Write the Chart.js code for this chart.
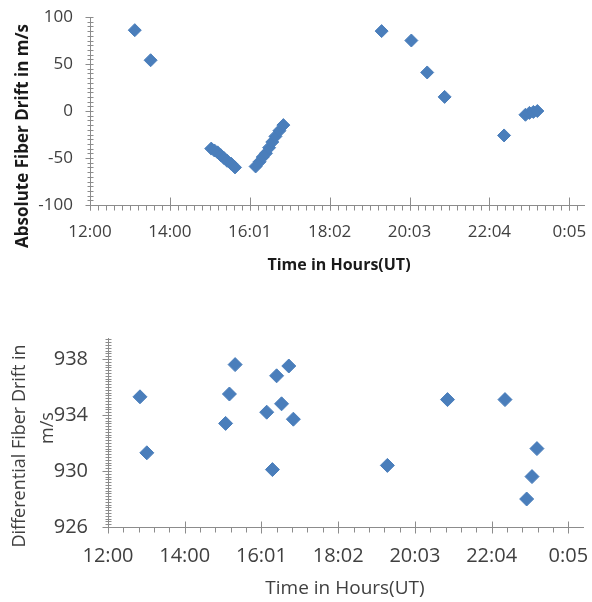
<!DOCTYPE html>
<html>
<head>
<meta charset="utf-8">
<script src="https://cdn.jsdelivr.net/npm/chart.js@4/dist/chart.umd.min.js"></script>
<style>
  html, body { margin: 0; padding: 0; background: #ffffff; }
  #wrap { position: relative; width: 592px; height: 602px; overflow: hidden; }
  .box { position: absolute; left: 0; width: 592px; }
  #b1 { top: 0; height: 300px; }
  #b2 { top: 300px; height: 302px; }
</style>
</head>
<body>
<div id="wrap">
  <div class="box" id="b1"><canvas id="c1" width="592" height="300"></canvas></div>
  <div class="box" id="b2"><canvas id="c2" width="592" height="302"></canvas></div>
</div>
<script>
// ---------- DATA ----------
const xTickHours  = [12, 14.016, 16.032, 18.048, 20.064, 22.08, 24.096];
const xTickLabels = ['12:00', '14:00', '16:01', '18:02', '20:03', '22:04', '0:05'];

// Absolute fiber drift (m/s) vs time (hours UT)
const absHours = [13.13, 13.53,
  15.06, 15.14, 15.22, 15.30, 15.38, 15.46, 15.56, 15.66,
  16.18, 16.28, 16.36, 16.44, 16.52, 16.60, 16.68, 16.78, 16.88,
  19.36, 20.11, 20.51, 20.95, 22.45,
  22.99, 23.09, 23.19, 23.29];
const absDrift = [86, 54,
  -40, -42, -44, -47, -50, -53, -56, -60,
  -59, -54, -49, -45, -39, -33, -27, -21, -15,
  85, 75, 41, 15, -26,
  -4, -2, -1, 0];
const absYTicks = [-100, -50, 0, 50, 100];

// Differential fiber drift (m/s) vs time (hours UT)
const diffHours = [12.84, 13.02, 15.09, 15.19, 15.34, 16.17, 16.32, 16.43, 16.56, 16.75, 16.87,
  19.34, 20.92, 22.43, 23.00, 23.14, 23.27];
const diffDrift = [935.3, 931.3, 933.4, 935.5, 937.6, 934.2, 930.1, 936.8, 934.8, 937.5, 933.7,
  930.4, 935.1, 935.1, 928.0, 929.6, 931.6];
const diffYTicks = [926, 930, 934, 938];

// ---------- STYLE ----------
const AXIS = '#8c8c8c';
const MARK = '#4a7ebb';
const FONT = "'Open Sans', 'Noto Sans', sans-serif";

const axisDeco = {
  id: 'axisDeco',
  afterDraw(chart, args, o) {
    const ctx = chart.ctx, xs = chart.scales.x, ys = chart.scales.y, a = chart.chartArea;
    ctx.save();
    ctx.strokeStyle = AXIS; ctx.lineWidth = 1;
    ctx.beginPath();
    const L = Math.round(a.left) + 0.5, B = Math.round(a.bottom) + 0.5;
    for (let v = ys.min; v <= ys.max + 1e-9; v += o.yMinor) {
      const py = Math.round(ys.getPixelForValue(v)) + 0.5;
      ctx.moveTo(L - o.yMinorL, py); ctx.lineTo(L + o.yMinorR, py);
    }
    ys.ticks.forEach(t => {
      const py = Math.round(ys.getPixelForValue(t.value)) + 0.5;
      ctx.moveTo(L - o.yMajorL, py); ctx.lineTo(L + o.yMajorR, py);
    });
    for (let v = xs.min; v <= xs.max + 1e-9; v += o.xMinor) {
      const px = Math.round(xs.getPixelForValue(v)) + 0.5;
      ctx.moveTo(px, B); ctx.lineTo(px, B + o.xMinorD);
    }
    xs.ticks.forEach(t => {
      const px = Math.round(xs.getPixelForValue(t.value)) + 0.5;
      ctx.moveTo(px, B - o.xMajorU); ctx.lineTo(px, B + o.xMajorD);
    });
    ctx.stroke();
    // titles
    (o.titles || []).forEach(t => {
      ctx.save();
      ctx.translate(t.x, t.y);
      if (t.rot) ctx.rotate(t.rot);
      ctx.font = t.font;
      ctx.fillStyle = t.color;
      ctx.textAlign = 'center';
      ctx.textBaseline = 'middle';
      ctx.fillText(t.text, 0, 0);
      ctx.restore();
    });
    ctx.restore();
  }
};

function zeroPad(s) { s.paddingLeft = 0; s.paddingRight = 0; s.paddingTop = 0; s.paddingBottom = 0; }

function makeChart(id, hours, vals, yTicks, cfg) {
  const pts = hours.map((h, i) => ({ x: h, y: vals[i] }));
  return new Chart(document.getElementById(id), {
    type: 'scatter',
    data: { datasets: [{
      data: pts,
      pointStyle: 'rectRot',
      pointRadius: cfg.r,
      pointHoverRadius: cfg.r,
      backgroundColor: MARK,
      borderColor: MARK,
      borderWidth: 1
    }]},
    options: {
      responsive: false,
      animation: false,
      events: [],
      layout: { padding: cfg.pad },
      plugins: { legend: { display: false }, tooltip: { enabled: false }, axisDeco: cfg.deco },
      scales: {
        x: {
          type: 'linear', min: 12, max: 24.48,
          grid: { display: false, drawTicks: false },
          border: { display: true, color: AXIS, width: 1 },
          afterBuildTicks: s => { s.ticks = xTickHours.map(v => ({ value: v })); },
          afterFit: s => { s.height = cfg.xH; zeroPad(s); },
          ticks: {
            autoSkip: false, maxRotation: 0,
            padding: cfg.xPad,
            color: cfg.tickColor,
            font: { family: FONT, size: cfg.fs },
            callback: (v, i) => xTickLabels[i]
          }
        },
        y: {
          type: 'linear', min: cfg.yMin, max: cfg.yMax,
          grid: { display: false, drawTicks: false },
          border: { display: true, color: AXIS, width: 1 },
          afterBuildTicks: s => { s.ticks = yTicks.map(v => ({ value: v })); },
          afterFit: s => { s.width = cfg.yW; zeroPad(s); },
          ticks: {
            padding: cfg.yPad,
            color: cfg.tickColor,
            font: { family: FONT, size: cfg.fs },
            callback: v => String(v)
          }
        }
      }
    },
    plugins: [axisDeco]
  });
}

makeChart('c1', absHours, absDrift, absYTicks, {
  r: 6.5, fs: 17, tickColor: '#404040',
  pad: { left: 0, top: 17, right: 4, bottom: 0 },
  xH: 95, yW: 90, xPad: 17, yPad: 17,
  yMin: -100, yMax: 100,
  deco: {
    yMinor: 5, yMinorL: 3, yMinorR: 3, yMajorL: 5, yMajorR: 1,
    xMinor: 0.2016, xMinorD: 5, xMajorU: 8, xMajorD: 5,
    titles: [
      { text: 'Absolute Fiber Drift in m/s', x: 23, y: 136, rot: -Math.PI / 2, font: "bold 17px " + FONT, color: '#1a1a1a' },
      { text: 'Time in Hours(UT)', x: 339, y: 265, font: "bold 16px " + FONT, color: '#1a1a1a' }
    ]
  }
});

makeChart('c2', diffHours, diffDrift, diffYTicks, {
  r: 7, fs: 20, tickColor: '#404040',
  pad: { left: 0, top: 38, right: 9, bottom: 0 },
  xH: 75, yW: 108, xPad: 17, yPad: 20,
  yMin: 926, yMax: 939.5,
  deco: {
    yMinor: 0.2, yMinorL: 3, yMinorR: 3, yMajorL: 6, yMajorR: 3,
    xMinor: 0.4032, xMinorD: 5, xMajorU: 6, xMajorD: 6,
    titles: [
      { text: 'Differential Fiber Drift in', x: 20, y: 446 - 300, rot: -Math.PI / 2, font: "18px " + FONT, color: '#404040' },
      { text: 'm/s', x: 48, y: 128, rot: -Math.PI / 2, font: "18px " + FONT, color: '#404040' },
      { text: 'Time in Hours(UT)', x: 345, y: 289, font: "19px " + FONT, color: '#404040' }
    ]
  }
});
</script>
</body>
</html>
